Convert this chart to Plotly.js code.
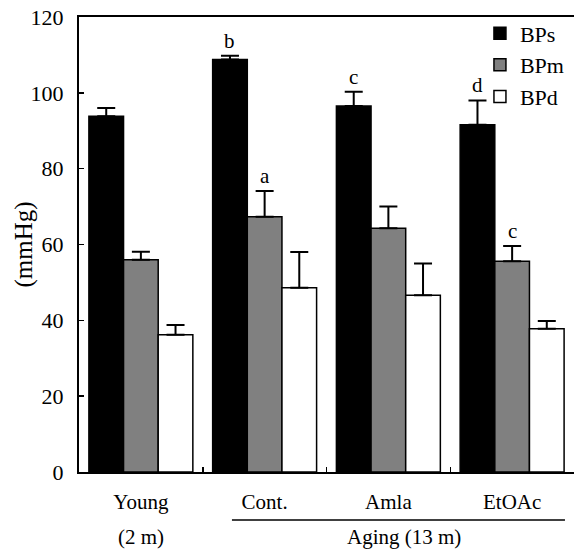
<!DOCTYPE html>
<html>
<head>
<meta charset="utf-8">
<script src="https://cdn.plot.ly/plotly-3.0.1.min.js"></script>
<style>html,body{margin:0;padding:0;background:#fff;}#chart{width:574px;height:551px;}</style>
</head>
<body>
<div id="chart"></div>
<script>
// Data
var categories = ['Young', 'Cont.', 'Amla', 'EtOAc'];
var subLabels = ['(2 m)', '', '', ''];
var bpsValues = [93.8, 108.8, 96.5, 91.6];
var bpsErrors = [2.2, 1.0, 3.8, 6.4];
var bpmValues = [56.0, 67.3, 64.3, 55.6];
var bpmErrors = [2.1, 6.8, 5.7, 4.0];
var bpdValues = [36.2, 48.6, 46.6, 37.8];
var bpdErrors = [2.6, 9.4, 8.4, 2.0];
var bpsLetters = ['', 'b', 'c', 'd'];
var bpmLetters = ['', 'a', '', 'c'];
var groupLabel = 'Aging (13 m)';
var yTitle = '(mmHg)';

var FONT = 'Liberation Serif, Times New Roman, serif';
var BARGAP = 0.16;
var barW = (1 - BARGAP) / 3;

function mkTrace(name, vals, errs, color, group) {
  return {
    type: 'bar', name: name, x: categories, y: vals,
    legendgroup: group,
    marker: {color: color, line: {color: '#000', width: 1.5}},
    error_y: {type: 'data', symmetric: false, array: errs,
              arrayminus: errs.map(function(){return 0;}),
              color: '#000', thickness: 2, width: 9}
  };
}

var traces = [
  mkTrace('BPs', bpsValues, bpsErrors, '#000000', 'g1'),
  mkTrace('BPm', bpmValues, bpmErrors, '#808080', 'g2'),
  mkTrace('BPd', bpdValues, bpdErrors, '#ffffff', 'g3')
];

var annotations = [];
function addLetters(letters, vals, errs, offset) {
  letters.forEach(function(l, i) {
    if (!l) return;
    annotations.push({
      x: i + offset, y: vals[i] + errs[i], xref: 'x', yref: 'y',
      text: l, showarrow: false, yanchor: 'bottom', yshift: 1,
      font: {family: FONT, size: 21, color: '#000'}
    });
  });
}
addLetters(bpsLetters, bpsValues, bpsErrors, -barW);
addLetters(bpmLetters, bpmValues, bpmErrors, 0);

subLabels.forEach(function(s, i) {
  if (!s) return;
  annotations.push({
    x: i, y: 0, xref: 'x', yref: 'paper', yanchor: 'top', yshift: -51,
    text: s, showarrow: false,
    font: {family: FONT, size: 21, color: '#000'}
  });
});

annotations.push({
  x: 2.13, y: 0, xref: 'x', yref: 'paper', yanchor: 'top', yshift: -51,
  text: groupLabel, showarrow: false,
  font: {family: FONT, size: 21, color: '#000'}
});

annotations.push({
  x: -0.113, y: 0.5, xref: 'paper', yref: 'paper', xanchor: 'center', yanchor: 'middle',
  text: yTitle, textangle: -90, showarrow: false,
  font: {family: FONT, size: 25, color: '#000'}
});

var layout = {
  width: 574, height: 551,
  margin: {l: 79, r: 0, t: 17, b: 79},
  paper_bgcolor: '#fff', plot_bgcolor: '#fff',
  font: {family: FONT, size: 21, color: '#000'},
  barmode: 'group', bargap: BARGAP, bargroupgap: 0,
  showlegend: true,
  legend: {x: 0.81, y: 1.01, xanchor: 'left', yanchor: 'top',
           font: {family: FONT, size: 22, color: '#000'},
           bgcolor: 'rgba(0,0,0,0)', tracegroupgap: 0, itemwidth: 30},
  xaxis: {
    type: 'category', range: [-0.5, 3.5],
    showline: true, linecolor: '#000', linewidth: 2, mirror: true,
    ticks: 'inside', tickson: 'boundaries', ticklen: 5, tickwidth: 1.5, tickcolor: '#000',
    showgrid: false, zeroline: false, ticklabelstandoff: 10,
    tickfont: {family: FONT, size: 21, color: '#000'}
  },
  yaxis: {
    range: [0, 120], dtick: 20, tick0: 0,
    showline: true, linecolor: '#000', linewidth: 2, mirror: false,
    ticks: 'inside', ticklen: 5, tickwidth: 1.5, tickcolor: '#000',
    showgrid: false, zeroline: false, ticklabelstandoff: 9,
    tickfont: {family: FONT, size: 22, color: '#000'}
  },
  shapes: [{
    type: 'line', xref: 'x', yref: 'paper',
    x0: 0.736, x1: 3.427, y0: -48, y1: -48, ysizemode: 'pixel', yanchor: 0,
    line: {color: '#000', width: 1.5}
  }],
  annotations: annotations
};

Plotly.newPlot('chart', traces, layout, {displayModeBar: false, staticPlot: true});
</script>
</body>
</html>
